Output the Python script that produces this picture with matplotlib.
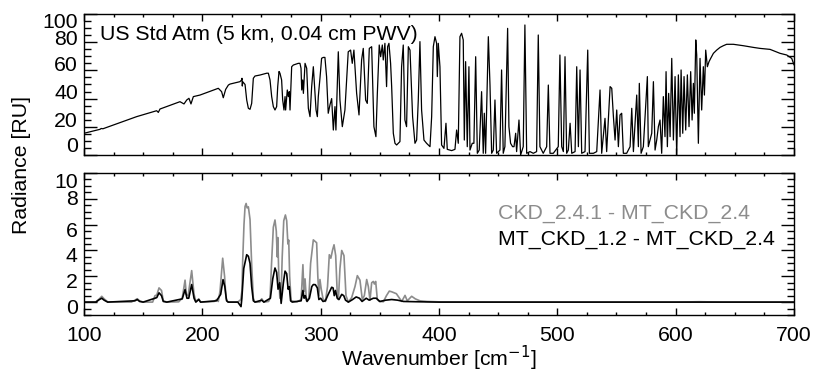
import matplotlib
matplotlib.use('Agg')
import matplotlib.pyplot as plt
from matplotlib.ticker import MultipleLocator
from matplotlib.transforms import ScaledTranslation

# Top panel: radiance spectrum
rad_wn = [100.0, 113.5, 114.5, 116.0, 144.5, 161.4, 162.8, 164.2, 181.1, 184.5,
          186.8, 188.7, 190.4, 192.4, 198.0, 213.5, 216.3, 217.7, 219.7, 222.0,
          223.4, 231.8, 233.2, 233.5, 233.8, 234.1, 236.1, 237.5, 238.9, 240.3,
          241.7, 243.1, 244.5, 248.7, 254.4, 255.8, 257.2, 258.6, 260.0, 261.4,
          262.8, 263.7, 264.8, 265.6, 267.0, 267.9, 269.0, 269.9, 270.4, 271.8,
          272.7, 273.5, 274.1, 275.5, 276.9, 281.1, 282.5, 283.4, 284.0, 284.8,
          285.4, 286.8, 288.2, 289.6, 291.0, 292.4, 293.8, 295.2, 296.1, 297.2,
          298.0, 299.4, 300.8, 302.2, 303.6, 305.0, 306.4, 308.0, 309.3, 310.7,
          312.1, 312.9, 314.9, 316.3, 318.3, 320.5, 323.3, 325.3, 326.7, 328.1,
          330.4, 332.4, 334.6, 336.0, 338.0, 339.4, 341.1, 343.1, 345.0, 346.7,
          347.9, 349.5, 350.7, 352.1, 352.9, 354.3, 355.7, 356.6, 357.7, 359.1,
          360.0, 361.4, 362.8, 364.2, 367.0, 368.4, 369.8, 371.2, 372.6, 374.1,
          375.5, 377.7, 379.7, 381.1, 382.5, 383.9, 385.3, 387.3, 389.5, 392.4,
          393.8, 395.2, 396.6, 398.0, 398.6, 399.4, 400.8, 402.2, 404.2, 405.9,
          407.0, 410.7, 413.5, 414.9, 416.3, 417.7, 419.1, 420.5, 421.4, 422.5,
          423.9, 425.3, 426.2, 428.1, 429.5, 431.0, 432.4, 434.0, 436.0, 437.4,
          438.3, 439.4, 441.7, 443.1, 444.5, 445.9, 447.3, 448.7, 451.5, 452.9,
          454.3, 455.7, 458.0, 459.1, 460.5, 462.2, 463.4, 464.8, 465.6, 467.6,
          469.0, 471.2, 472.6, 474.1, 476.9, 479.7, 482.5, 483.9, 485.3, 488.1,
          491.0, 492.4, 493.8, 496.6, 500.8, 502.2, 503.7, 505.1, 506.5, 507.9,
          509.3, 510.8, 512.2, 515.0, 516.4, 517.8, 519.2, 520.6, 523.4, 525.7,
          527.1, 530.5, 533.3, 536.1, 537.5, 540.3, 541.7, 544.6, 546.0, 547.4,
          548.8, 550.2, 551.6, 553.0, 554.4, 555.8, 558.6, 561.5, 562.9, 564.3,
          567.1, 568.5, 569.3, 570.8, 572.7, 576.1, 576.9, 579.8, 581.2, 582.6,
          584.0, 585.4, 586.8, 588.2, 589.6, 591.0, 591.9, 593.0, 594.1, 595.3,
          596.7, 598.1, 599.5, 600.9, 602.3, 603.7, 604.6, 606.0, 607.1, 608.5,
          609.9, 611.3, 612.7, 613.9, 615.0, 615.8, 617.0, 617.8, 619.2, 620.6,
          622.0, 623.4, 624.3, 625.4, 626.8, 628.2, 629.6, 631.9, 634.7, 637.5,
          640.3, 643.1, 648.8, 657.2, 665.7, 671.3, 679.8, 688.2, 693.9, 698.1,
          700.0]
radiance = [15.4, 18.2, 18.8, 18.6, 27.2, 31.4, 30.2, 32.6, 37.8, 36.2,
            39.0, 40.2, 36.2, 41.4, 42.5, 47.3, 44.9, 40.6, 46.5, 49.6,
            50.3, 52.0, 53.2, 54.4, 48.9, 52.0, 50.0, 39.0, 33.1, 32.4,
            36.6, 54.4, 56.0, 56.7, 58.0, 58.0, 53.2, 41.4, 34.3, 31.9,
            34.3, 48.5, 59.2, 58.0, 53.2, 39.0, 31.9, 41.4, 31.9, 46.1,
            41.4, 44.9, 31.9, 62.6, 63.8, 65.0, 65.0, 61.5, 46.1, 53.2,
            43.7, 65.0, 61.5, 33.1, 27.2, 48.5, 62.6, 43.7, 31.9, 27.2,
            41.4, 54.4, 68.6, 69.2, 69.2, 55.6, 29.6, 36.0, 40.0, 17.7,
            34.3, 17.7, 73.2, 39.0, 20.1, 31.9, 73.2, 74.4, 65.0, 74.4,
            43.7, 28.4, 67.4, 75.6, 39.0, 36.6, 75.6, 76.8, 20.1, 13.0,
            43.7, 78.0, 69.7, 78.0, 67.4, 79.2, 48.5, 76.8, 79.2, 65.0,
            48.5, 15.4, 8.3, 7.1, 9.5, 62.6, 78.0, 24.8, 20.1, 76.8,
            74.4, 27.2, 8.3, 10.6, 39.0, 80.4, 31.9, 10.6, 8.3, 5.9,
            27.2, 76.8, 83.9, 79.2, 55.6, 79.2, 62.6, 7.1, 4.7, 22.5,
            4.0, 3.1, 4.0, 17.7, 8.3, 83.9, 86.3, 81.6, 10.6, 66.2,
            5.9, 62.6, 3.5, 8.3, 8.3, 69.7, 1.2, 3.5, 44.9, 1.2,
            29.6, 1.2, 83.9, 49.6, 1.2, 3.5, 39.0, 1.2, 3.5, 60.3,
            1.2, 5.9, 89.8, 20.1, 8.3, 5.9, 5.9, 15.4, 2.4, 24.8,
            0.0, 5.9, 92.2, 1.2, 2.4, 1.2, 2.4, 85.1, 5.9, 1.2,
            5.9, 49.6, 1.2, 1.2, 5.9, 70.9, 5.9, 2.4, 69.7, 1.2,
            3.5, 22.5, 1.2, 2.4, 62.6, 5.9, 60.3, 1.2, 2.4, 74.4,
            1.2, 1.2, 2.4, 46.1, 1.2, 26.0, 2.4, 48.5, 47.3, 27.2,
            10.6, 31.9, 5.9, 28.4, 29.6, 1.2, 1.2, 5.9, 33.1, 2.4,
            42.5, 5.9, 50.8, 1.2, 5.9, 55.6, 5.9, 15.4, 52.0, 3.5,
            10.6, 20.1, 24.8, 1.2, 41.4, 13.0, 59.1, 5.9, 43.7, 13.0,
            68.5, 10.6, 55.6, 0.0, 56.8, 13.0, 60.3, 15.4, 55.6, 17.7,
            56.8, 20.1, 59.1, 24.8, 50.8, 29.6, 81.6, 70.9, 8.3, 68.5,
            31.9, 62.6, 42.5, 74.4, 62.6, 66.2, 68.5, 72.1, 74.4, 76.3,
            77.5, 78.5, 78.5, 77.5, 76.3, 75.6, 74.9, 72.1, 70.9, 68.5,
            64.0]

# Bottom panel: CKD_2.4.1 - MT_CKD_2.4 (grey)
ckd241_wn = [100, 110, 113, 115, 117, 120, 140, 143, 145, 147,
             150, 158, 160, 161.5, 163.4, 165.5, 167, 170, 180, 183,
             185.4, 186.5, 188, 191, 193, 194.5, 197, 198.5, 210, 212,
             213.5, 215, 216.2, 217.2, 218.8, 220, 221.5, 230, 232.5, 233.5,
             234.1, 235.2, 236.1, 237.0, 237.8, 238.9, 240.3, 241.7, 243.1, 244.5,
             248.5, 250.2, 252, 256, 257.2, 258.5, 260.0, 261.4, 262.5, 263.3,
             263.8, 264.5, 265.5, 266.5, 267.5, 268.8, 270.2, 271.3, 272.3, 273.0,
             273.8, 275.0, 280, 283.5, 285.0, 285.8, 286.8, 288, 290, 291.5,
             293.8, 295.3, 296.6, 297.6, 298.5, 299.4, 300.5, 302, 304, 305.8,
             307.3, 308.6, 310.1, 311.3, 312.7, 314, 315, 316.3, 317.8, 319.7,
             321.4, 323.4, 326.2, 329, 331, 333.2, 335.2, 336.9, 338.9, 340.3,
             341.7, 343.1, 344.5, 345.4, 346.5, 347.9, 349.6, 353, 355.6, 358,
             360, 364, 366.6, 368.5, 371.3, 373.2, 376.9, 380, 383.9, 390,
             400, 420, 450, 500, 600, 620, 640, 700]
ckd241_diff = [0, 0.02, 0.25, 0.45, 0.25, 0.02, 0.0, 0.15, 0.26, 0.1,
               0.0, 0.0, 0.5, 0.55, 1.1, 0.9, 0.1, 0.0, 0.02, 0.3,
               1.7, 0.6, 0.5, 2.44, 0.6, 0.05, 0.25, 0.0, 0.05, 0.2,
               0.05, 0.9, 2.3, 3.4, 2.0, 0.3, 0.0, 0.0, 0.2, 0.9,
               3.2, 6.0, 7.4, 7.64, 7.3, 7.38, 6.4, 2.9, 0.3, 0.0,
               0.0, 0.26, 0.0, 0.05, 0.3, 3.0, 5.8, 6.36, 5.5, 3.5,
               5.0, 2.5, 0.3, 0.3, 3.5, 6.3, 6.75, 6.3, 4.5, 4.8,
               2.0, 0.1, 0.02, 0.2, 2.9, 0.8, 1.8, 0.1, 0.3, 3.0,
               4.82, 4.7, 4.6, 2.0, 0.5, 1.75, 1.0, 0.25, 0.05, 1.2,
               3.67, 3.4, 4.05, 4.44, 3.6, 0.7, 0.2, 2.6, 4.0, 3.6,
               0.5, 0.0, 0.35, 1.2, 2.05, 1.7, 0.2, 0.5, 1.75, 1.2,
               0.15, 1.5, 1.6, 1.4, 1.6, 0.2, 0.05, 0.03, 0.5, 0.85,
               0.8, 0.65, 0.3, 0.05, 0.52, 0.1, 0.45, 0.25, 0.1, 0.05,
               0.02, 0.01, 0.0, 0.0, 0.0, 0.03, 0.0, 0.0]

# Bottom panel: MT_CKD_1.2 - MT_CKD_2.4 (black)
mtckd12_wn = [100, 110, 113, 115, 117, 120, 143, 145, 147, 150,
              160, 161.5, 163.4, 165.5, 167, 170, 183, 185.4, 187, 188.5,
              191, 193, 194.5, 197, 198.5, 212, 215.5, 217.5, 219, 220.5,
              222, 230, 232.7, 233.4, 235, 237.5, 238.9, 240.3, 241.7, 243.1,
              244.5, 250.2, 252, 257.5, 259.5, 261.4, 262.8, 264, 265.4, 266.6,
              268.5, 269.9, 271.3, 272.5, 273.5, 274.6, 276, 283.5, 285.0, 286,
              287, 288.5, 290.5, 292.5, 293.8, 295.5, 297.2, 298.5, 300, 302,
              304, 306.4, 308, 309.3, 310.5, 311.5, 312.5, 314, 315.5, 317.8,
              319.5, 321, 323.4, 327, 330, 332.8, 335, 338.5, 341, 344.5,
              347, 350, 355, 360, 365, 370, 380, 400, 700]
mtckd12_diff = [0, 0.0, 0.2, 0.3, 0.15, 0, 0.1, 0.2, 0.05, 0,
                0.3, 0.35, 0.72, 0.5, 0.05, 0, 0.25, 0.97, 0.3, 0.3,
                1.36, 0.3, 0.0, 0.2, 0, 0.1, 0.6, 1.74, 1.2, 0.1,
                0, 0, -0.35, 0.3, 2.6, 3.67, 3.55, 3.0, 1.2, 0.1,
                0, 0.15, 0, 0.3, 1.8, 2.64, 2.3, 1.0, 1.5, -0.1,
                1.5, 2.4, 2.2, 1.0, 1.2, 0.1, 0, 0.1, 0.9, 0.3,
                0.5, 0.05, 0.3, 1.2, 1.36, 1.35, 1.1, 0.2, 0.3, 0.05,
                0.1, 0.6, 0.9, 1.15, 1.1, 0.5, 0.9, 0.3, 0.2, 0.6,
                0.5, 0.15, 0.0, 0.2, 0.4, 0.3, 0.05, 0.3, 0.15, 0.3,
                0.3, 0.05, 0.15, 0.2, 0.15, 0.05, 0.03, 0.0, 0.0]

GREY = '0.55'
FS = 15.3


def shift_labels(fig, labels, offsets_px):
    # labels sit on their baseline at the tick, then get nudged (pixels, + is up)
    for lbl, dy in zip(labels, offsets_px):
        lbl.set_va('baseline')
        lbl.set_transform(lbl.get_transform() +
                          ScaledTranslation(0, dy / 100.0, fig.dpi_scale_trans))


def style_axis(ax, ymajor, yminor):
    ax.set_xlim(100, 700)
    ax.xaxis.set_major_locator(MultipleLocator(100))
    ax.xaxis.set_minor_locator(MultipleLocator(25))
    ax.yaxis.set_major_locator(MultipleLocator(ymajor))
    ax.yaxis.set_minor_locator(MultipleLocator(yminor))
    ax.tick_params(axis='both', which='both', direction='in',
                   top=True, right=True, width=1.0, labelsize=FS)
    ax.tick_params(axis='x', which='major', length=5, pad=8)
    ax.tick_params(axis='x', which='minor', length=2.5)
    ax.tick_params(axis='y', which='major', length=9.5, pad=4.5)
    ax.tick_params(axis='y', which='minor', length=4.7)
    for sp in ax.spines.values():
        sp.set_linewidth(1.0)


def plot_spectra():
    plt.rcParams['font.family'] = ['Liberation Sans', 'DejaVu Sans']
    fig = plt.figure(figsize=(8.14, 3.76), dpi=100)
    ax1 = fig.add_axes([0.1032, 0.5878, 0.8722, 0.375])
    ax2 = fig.add_axes([0.1032, 0.1622, 0.8722, 0.3777])

    ax1.plot(rad_wn, radiance, color='black', lw=0.9)
    ax1.set_ylim(0, 100)
    style_axis(ax1, 20, 5)
    ax1.set_xticklabels([])
    ax1.set_yticks([0, 20, 40, 60, 80, 100])
    ax1.set_yticklabels(['0', '20', '40', '60', '80', '100'])
    shift_labels(fig, ax1.get_yticklabels(), [3, -0.5, -0.5, -0.5, -2.6, -14])
    ax1.text(0.0225, 0.851, 'US Std Atm (5 km, 0.04 cm PWV)',
             transform=ax1.transAxes, fontsize=FS, va='center', ha='left')

    ax2.plot(ckd241_wn, ckd241_diff, color=GREY, lw=1.2)
    ax2.plot(mtckd12_wn, mtckd12_diff, color='black', lw=1.2)
    ax2.set_ylim(-1, 10)
    style_axis(ax2, 2, 0.5)
    ax2.set_yticks([0, 2, 4, 6, 8, 10])
    ax2.set_yticklabels(['0', '2', '4', '6', '8', '10'])
    shift_labels(fig, ax2.get_yticklabels(), [-11.5, -11.5, -11.5, -12, -6.5, -15.5])
    ax2.set_xlabel('Wavenumber [cm$^{-1}$]', fontsize=FS, labelpad=-1)
    ax2.text(0.583, 0.718, 'CKD_2.4.1 - MT_CKD_2.4', color=GREY,
             transform=ax2.transAxes, fontsize=FS, va='center', ha='left')
    ax2.text(0.583, 0.535, 'MT_CKD_1.2 - MT_CKD_2.4', color='black',
             transform=ax2.transAxes, fontsize=FS, va='center', ha='left')

    fig.text(0.0264, 0.5625, 'Radiance [RU]', rotation=90, fontsize=FS,
             va='center', ha='center')

    plt.savefig('out.png', dpi=100)


if __name__ == '__main__':
    plot_spectra()
